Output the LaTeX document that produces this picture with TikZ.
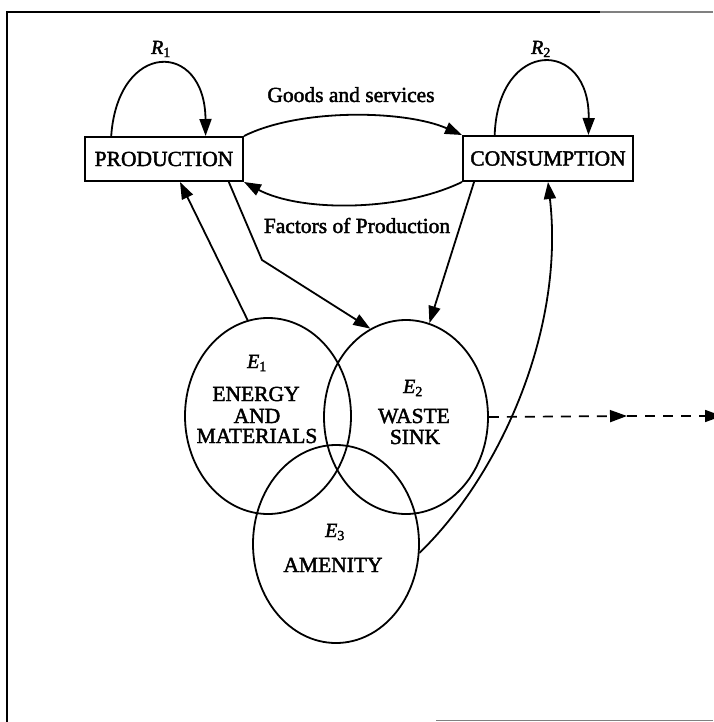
\documentclass[tikz,border=0pt]{standalone}
\usepackage{fontspec}
\setmainfont{Liberation Serif}[FakeBold=2]
\usetikzlibrary{arrows.meta,shapes.geometric,calc}
\begin{document}
\begin{tikzpicture}[x=1pt,y=-1pt,
  line width=1.8pt,
  tip/.style={-{Triangle[length=17pt,width=12pt]}},
  boxnode/.style={draw, line width=2pt, inner sep=0pt, font=\fontsize{21.5}{23}\selectfont},
  oval/.style={draw, ellipse, inner sep=0pt, line width=1.8pt},
  txt/.style={font=\fontsize{21.5}{23}\selectfont, inner sep=0pt, anchor=base},
  elab/.style={font=\fontsize{20}{22}\selectfont, inner sep=0pt, anchor=base},
  dashline/.style={line width=1.7pt, dash pattern=on 10pt off 8pt},
]
\useasboundingbox (0,0) rectangle (713,722);

% frame
\draw[line width=2pt] (600,12) -- (7,12) -- (7,722);
\draw[line width=1.4pt, gray] (600,12) -- (713,12);
\draw[line width=1.4pt, gray] (436,720.5) -- (713,720.5);

% boxes
\node[boxnode, minimum width=158pt, minimum height=44pt] (prod) at (164,159) {PRODUCTION};
\node[boxnode, minimum width=170pt, minimum height=45pt] (cons) at (548,158.5) {CONSUMPTION};

% ellipses
\node[oval, minimum width=166pt, minimum height=196pt] (e1) at (268,416) {};
\node[oval, minimum width=164pt, minimum height=194pt] (e2) at (406,417) {};
\node[oval, minimum width=166pt, minimum height=198pt] (e3) at (336,544) {};

% loops
\draw[tip] ($(prod.north west)!0.17!(prod.north east)$) .. controls (118,40) and (205,40) .. ($(prod.north west)!0.76!(prod.north east)$);
\draw[tip] ($(cons.north west)!0.19!(cons.north east)$) .. controls (498,38) and (590,38) .. ($(cons.north west)!0.735!(cons.north east)$);
\node[elab] (r1) at (161,54) {\textit{R}\textsubscript{1}};
\node[elab] (r2) at (541,54) {\textit{R}\textsubscript{2}};

% goods and factors
\draw[tip] (prod.north east) .. controls (300,108) and (405,110) .. (cons.north west);
\draw[tip] (cons.south west) .. controls (400,212) and (300,212) .. (prod.south east);
\node[txt] (goods) at (351,102) {Goods and services};
\node[txt] (factors) at (357,233) {Factors of Production};

% connectors
\coordinate (bend) at (262,260);
\draw[tip] (e1.102) -- ($(prod.south west)!0.6!(prod.south east)$);
\draw[tip] ($(prod.south west)!0.905!(prod.south east)$) -- (bend) -- (e2.112);
\draw[tip] ($(cons.south west)!0.07!(cons.south east)$) -- (e2.76);
\draw[tip] (e3.-6) .. controls (500,475) and (565,330) .. (cons.south);

% dashed outflow
\coordinate (dmid) at (627,416);
\coordinate (dend) at (722,416);
\draw[dashline, tip] (e2.0) -- (dmid);
\draw[dashline, tip] (dmid) -- (dend);

% ellipse labels
\node[elab] (e1n) at (257,368) {\textit{E}\textsubscript{1}};
\node[txt] (e1a) at (256,401) {ENERGY};
\node[txt] (e1b) at (257,423) {AND};
\node[txt] (e1c) at (257,443) {MATERIALS};
\node[elab] (e2n) at (413,393) {\textit{E}\textsubscript{2}};
\node[txt] (e2a) at (414,423) {WASTE};
\node[txt] (e2b) at (415,444) {SINK};
\node[elab] (e3n) at (335,537) {\textit{E}\textsubscript{3}};
\node[txt] (e3a) at (333,572) {AMENITY};
\end{tikzpicture}
\end{document}
